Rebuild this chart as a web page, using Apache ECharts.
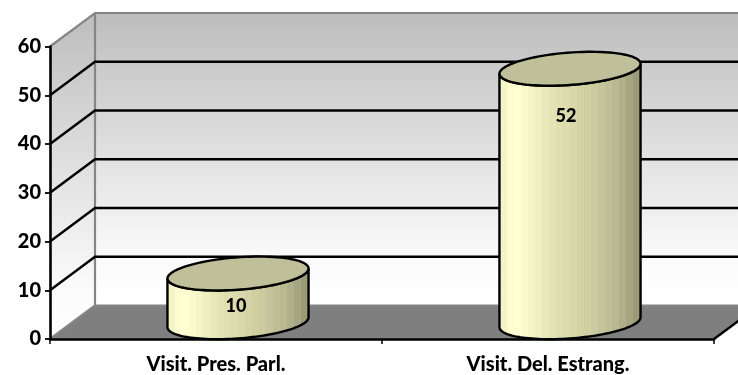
<!DOCTYPE html>
<html><head><meta charset="utf-8">
<style>html,body{margin:0;padding:0;background:#fff}#c{width:738px;height:375px}</style>
<script src="https://cdn.jsdelivr.net/npm/echarts@6/dist/echarts.min.js"></script>
</head><body><div id="c"></div>
<script>
const categories = ['Visit. Pres. Parl.', 'Visit. Del. Estrang.'];
const values = [10, 52];
const yTicks = [0, 10, 20, 30, 40, 50, 60];

const DX = 45, DY = -33.5;
const FONT = 'Lato';
const LABEL_DROP = [33, 47];
const LABEL_SHIFT = [-2, -4];
const bandColors = ['#f4f4c6','#fdfdcf','#ffffd2','#fafacc','#f4f4c6','#eeeec0','#e8e8ba','#e3e3b5','#dfdfb1','#dcdcae','#d8d8aa','#d3d3a6','#cfcfa2','#cbcb9f','#c5c59b','#bfbf96','#b8b891','#b0b08a','#a6a683','#9a9a79'];
const bodyStops = [];
bandColors.forEach((c, i) => {
  bodyStops.push({offset: i / bandColors.length, color: c});
  bodyStops.push({offset: (i + 1) / bandColors.length, color: c});
});

const chart = echarts.init(document.getElementById('c'), null, {renderer: 'canvas'});

function vGrad(y0, y1) {
  return new echarts.graphic.LinearGradient(0, y0, 0, y1, [
    {offset: 0, color: '#bdbdbd'}, {offset: 0.55, color: '#e6e6e6'}, {offset: 0.85, color: '#fbfbfb'}, {offset: 1, color: '#ffffff'}
  ], true);
}

function renderWalls(params, api) {
  const r = params.coordSys;
  const x0 = r.x, x1 = r.x + r.width, yb = r.y + r.height, yt = r.y;
  const edge = {stroke: '#858585', lineWidth: 2.2, fill: null};
  return {type: 'group', children: [
    {type: 'polygon', shape: {points: [[x0+DX, yt+DY],[x1+DX, yt+DY],[x1+DX, yb+DY],[x0+DX, yb+DY]]},
      style: {fill: vGrad(yt+DY, yb+DY)}},
    {type: 'polygon', shape: {points: [[x0, yt],[x0+DX, yt+DY],[x0+DX, yb+DY],[x0, yb]]},
      style: {fill: vGrad(yt+DY, yb)}},
    {type: 'polygon', shape: {points: [[x0, yb],[x0+DX, yb+DY],[x1+DX, yb+DY],[x1, yb]]},
      style: {fill: '#7f7f7f'}},
    {type: 'polyline', shape: {points: [[x0, yt],[x0+DX, yt+DY],[x1+DX, yt+DY]]}, style: edge},
    {type: 'polyline', shape: {points: [[x0+DX, yt+DY],[x0+DX, yb+DY],[x1+DX, yb+DY]]}, style: edge},
    {type: 'polyline', shape: {points: [[x0, yb],[x0+DX, yb+DY]]}, style: edge},
    {type: 'polyline', shape: {points: [[x1, yb],[x1+DX, yb+DY]]}, style: {stroke: '#000', lineWidth: 2.4, fill: null}}
  ]};
}

function renderGridline(params, api) {
  const r = params.coordSys;
  const y = api.coord([0, api.value(0)])[1];
  return {type: 'polyline',
    shape: {points: [[r.x, y],[r.x+DX, y+DY],[r.x+r.width+DX, y+DY]]},
    style: {stroke: '#000', lineWidth: 2.4, fill: null}};
}

function ellipse(cx, cy, a, skew, b, from, to, n) {
  const pts = [];
  for (let i = 0; i <= n; i++) {
    const t = from + (to - from) * i / n;
    pts.push([cx + a * Math.cos(t), cy - skew * Math.cos(t) + b * Math.sin(t)]);
  }
  return pts;
}

function renderCylinder(params, api) {
  const i = params.dataIndex;
  const v = api.value(1);
  const band = api.size([1, 0])[0];
  const base = api.coord([api.value(0), 0]);
  const top = api.coord([api.value(0), v]);
  const cx = base[0] + DX / 2 - 0.5, a = band * 0.2125;
  const yBase = base[1] + DY / 2, yTop = top[1] + DY / 2;
  const skew = 5, b = 16.2;
  const bottomArc = ellipse(cx, yBase, a, skew, b, Math.PI, 0, 60);
  const topArc = ellipse(cx, yTop, a, skew, b, 0, Math.PI * 2, 90);
  const body = bottomArc.concat(ellipse(cx, yTop, a, skew, b, 0, Math.PI, 60));
  return {type: 'group', children: [
    {type: 'polygon', shape: {points: body},
      style: {fill: new echarts.graphic.LinearGradient(cx-a, 0, cx+a, 0, bodyStops, true), stroke: '#000', lineWidth: 2.4}},
    {type: 'polygon', shape: {points: topArc}, style: {fill: '#bfbf99', stroke: '#000', lineWidth: 2.4}},
    {type: 'text', x: cx + LABEL_SHIFT[i], y: yTop + LABEL_DROP[i],
      style: {text: String(v), fill: '#000', font: '900 18px ' + FONT, align: 'center', verticalAlign: 'middle'}}
  ]};
}

chart.setOption({
  animation: false,
  backgroundColor: '#fff',
  grid: {left: 50, right: 24, top: 46.5, bottom: 36, containLabel: false},
  xAxis: {
    type: 'category', data: categories, z: 4,
    axisLine: {lineStyle: {color: '#000', width: 2.6}},
    axisTick: {show: true, alignWithLabel: false, length: 5, lineStyle: {color: '#000', width: 1.5}},
    axisLabel: {color: '#000', fontFamily: FONT, fontWeight: 900, fontSize: 20, margin: 16},
    splitLine: {show: false}
  },
  yAxis: {
    type: 'value', min: yTicks[0], max: yTicks[yTicks.length-1], interval: 10, z: 4,
    axisLine: {show: true, lineStyle: {color: '#000', width: 2.6}},
    axisTick: {show: true, length: 5, lineStyle: {color: '#000', width: 1.8}},
    axisLabel: {color: '#000', fontFamily: FONT, fontWeight: 900, fontSize: 20, margin: 9},
    splitLine: {show: false}
  },
  series: [
    {type: 'custom', name: 'walls', z: 1, silent: true, data: [[0]], renderItem: renderWalls, encode: {y: 0}},
    {type: 'custom', name: 'gridlines', z: 2, silent: true, data: yTicks.slice(1, -1).map(t => [t]), renderItem: renderGridline, encode: {y: 0}},
    {type: 'custom', name: 'cylinders', z: 5, data: values.map((v, i) => [i, v]), renderItem: renderCylinder, encode: {x: 0, y: 1}}
  ]
});
</script></body></html>
